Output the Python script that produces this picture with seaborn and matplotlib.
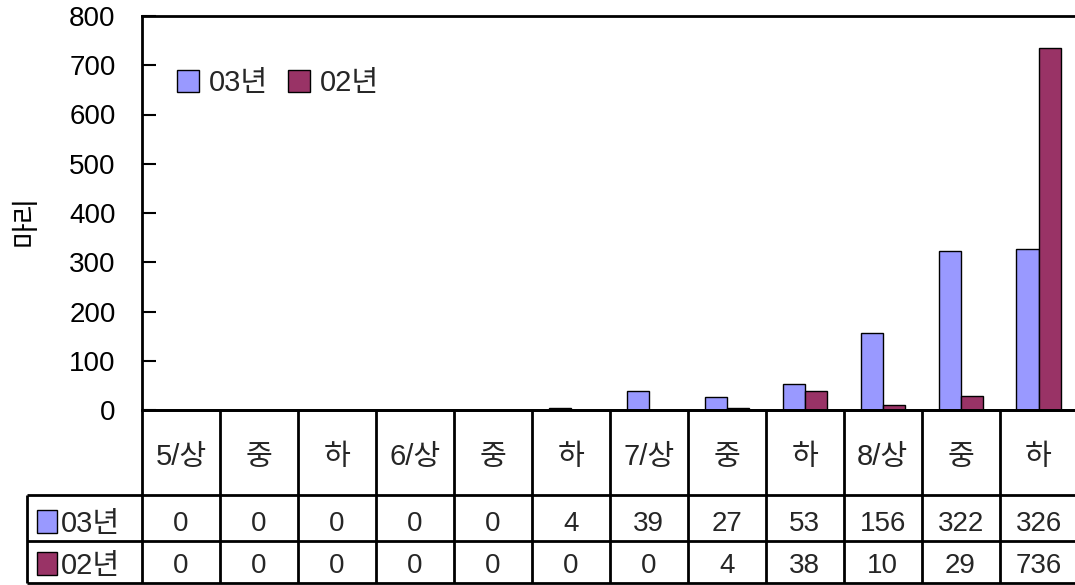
'''
Bar chart with a data table below (03년 vs 02년, per 상/중/하 period).
'''

import matplotlib
matplotlib.use("Agg")
import matplotlib.pyplot as plt
from matplotlib.patches import Rectangle
import pandas as pd
import seaborn as sns

# data
periods = ["5/상", "5/중", "5/하", "6/상", "6/중", "6/하",
           "7/상", "7/중", "7/하", "8/상", "8/중", "8/하"]
period_labels = ["5/상", "중", "하", "6/상", "중", "하",
                 "7/상", "중", "하", "8/상", "중", "하"]
series_names = ["03년", "02년"]
counts_03 = [0, 0, 0, 0, 0, 4, 39, 27, 53, 156, 322, 326]
counts_02 = [0, 0, 0, 0, 0, 0, 0, 4, 38, 10, 29, 736]
y_ticks = [0, 100, 200, 300, 400, 500, 600, 700, 800]

colors = ["#9999FF", "#993366"]

df = pd.DataFrame({
    "period": periods * 2,
    "count": counts_03 + counts_02,
    "year": [series_names[0]] * len(periods) + [series_names[1]] * len(periods),
})

sns.set_theme(style="white")
plt.rcParams["font.family"] = ["Liberation Sans", "Noto Sans CJK KR", "DejaVu Sans"]

W, H = 1075, 585
fig = plt.figure(figsize=(W / 100, H / 100), dpi=100)


def px_axes(x0, y0, x1, y1):
    # axes placed by pixel box (top-left origin)
    return fig.add_axes([x0 / W, 1 - y1 / H, (x1 - x0) / W, (y1 - y0) / H])


ax = px_axes(142, 16, 1077.5, 410)
sns.barplot(data=df, x="period", y="count", hue="year", order=periods,
            hue_order=series_names, palette=colors, saturation=1, width=0.565,
            gap=0, edgecolor="black", linewidth=1, ax=ax, legend=False)

ax.set_xlim(-0.5, len(periods) - 0.5)
ax.set_ylim(0, 800)
ax.set_yticks(y_ticks)
ax.tick_params(axis="y", direction="in", length=10, width=1.5, pad=19,
               labelsize=20, left=True, colors="black")
ax.tick_params(axis="x", bottom=False, labelbottom=False)
ax.set_xlabel("")
ax.set_ylabel("마리", fontsize=20, color="black")
ax.yaxis.set_label_coords((40 - 142) / 935.5, (410 - 221) / 394)
for side in ["left", "top", "bottom"]:
    ax.spines[side].set_linewidth(2)
    ax.spines[side].set_color("black")
ax.spines["right"].set_visible(False)

handles = [Rectangle((0, 0), 1, 1, facecolor=c, edgecolor="black", linewidth=1)
           for c in colors]
ax.legend(handles, series_names, loc="upper left",
          bbox_to_anchor=((177 - 142) / 935.5, 0.865), ncol=2, frameon=False,
          fontsize=21, handlelength=0.74, handleheight=0.74, handletextpad=0.34,
          columnspacing=0.7, borderpad=0, borderaxespad=0)

# data table under the chart
col_w = 935.5 / len(periods)
left = -0.5 - (142 - 27) / col_w
tax = px_axes(27, 410, 1077.5, 584)
tax.set_xlim(left, len(periods) - 0.5)
tax.set_ylim(174, 0)
tax.axis("off")

lw = 2
tax.hlines(0, -0.5, len(periods) - 0.5, color="black", lw=lw, clip_on=False)
tax.hlines([85, 130.5, 173], left, len(periods) - 0.5, color="black", lw=lw,
           clip_on=False)
for i in range(len(periods)):
    tax.vlines(i - 0.5, 0, 173, color="black", lw=lw, clip_on=False)
tax.vlines(left, 85, 173, color="black", lw=lw, clip_on=False)

for i, lab in enumerate(period_labels):
    tax.text(i, 47, lab, ha="center", va="center", fontsize=21)

row_y = [114, 156]
for vals, y in zip([counts_03, counts_02], row_y):
    for i, v in enumerate(vals):
        tax.text(i, y, str(v), ha="center", va="center", fontsize=20)

for name, c, y in zip(series_names, colors, row_y):
    tax.add_patch(Rectangle((left + 10 / col_w, y - 14), 20 / col_w, 23,
                            facecolor=c, edgecolor="black", linewidth=1))
    tax.text(left + 34 / col_w, y, name, ha="left", va="center", fontsize=21)

fig.savefig("out.png", dpi=100)
